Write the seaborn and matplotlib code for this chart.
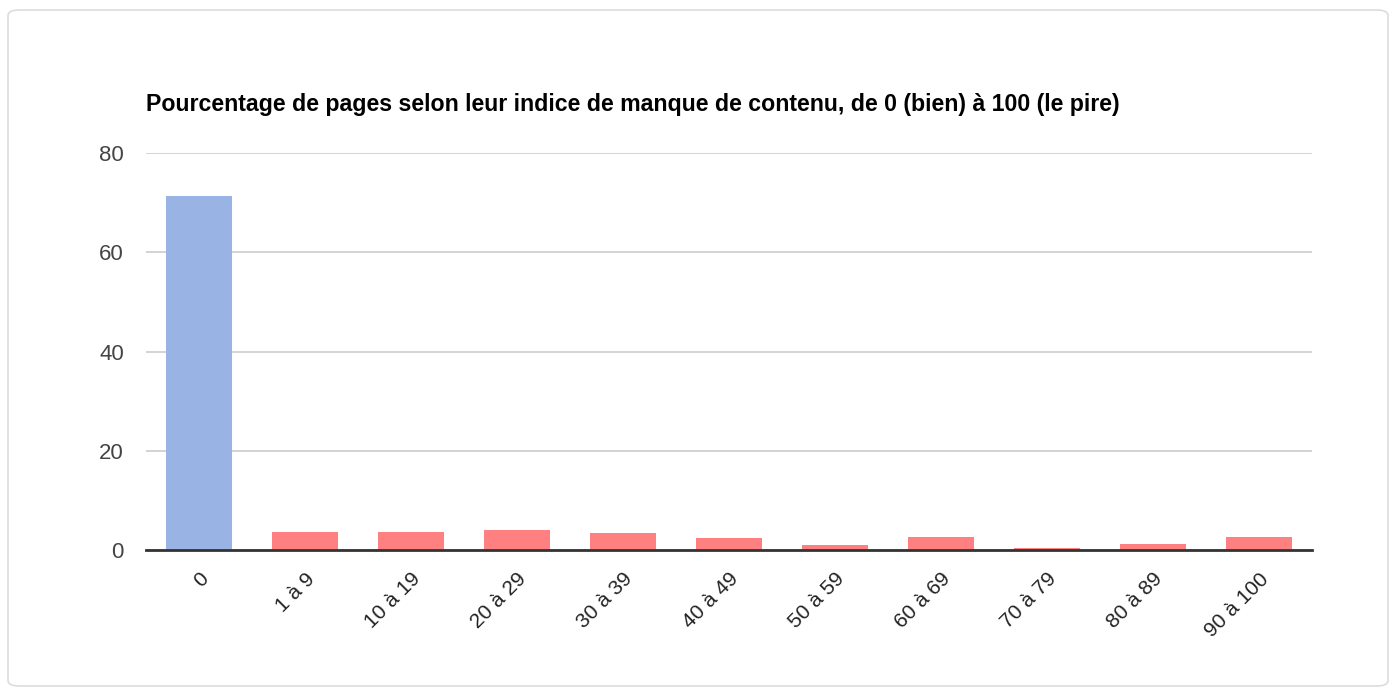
import matplotlib
matplotlib.use("Agg")
import matplotlib.pyplot as plt
from matplotlib.patches import FancyBboxPatch
import seaborn as sns
import pandas as pd

categories = ["0", "1 à 9", "10 à 19", "20 à 29", "30 à 39", "40 à 49",
              "50 à 59", "60 à 69", "70 à 79", "80 à 89", "90 à 100"]
values = [71.3, 3.6, 3.6, 4.0, 3.4, 2.4, 1.0, 2.6, 0.4, 1.2, 2.6]
groups = ["bien"] + ["manque"] * 10
palette = {"bien": "#99b3e5", "manque": "#ff8080"}
y_ticks = [0, 20, 40, 60, 80]
title = "Pourcentage de pages selon leur indice de manque de contenu, de 0 (bien) à 100 (le pire)"

df = pd.DataFrame({"categorie": categories, "valeur": values, "groupe": groups})

sns.set_theme(style="white")
plt.rcParams["font.family"] = ["Liberation Sans", "DejaVu Sans"]

fig = plt.figure(figsize=(13.96, 6.9), dpi=100)

# card outline, kept behind the axes
card = FancyBboxPatch((8 / 1396, 4 / 690), 1380 / 1396, 676 / 690,
                      boxstyle="round,pad=0,rounding_size=0.008",
                      transform=fig.transFigure, facecolor="none",
                      edgecolor="#dddddd", linewidth=1.2, zorder=-1)
fig.patches.append(card)

ax = fig.add_axes([146 / 1396, 1 - 550 / 690, 1166 / 1396, 397 / 690])
ax.set_facecolor("none")
ax.set_zorder(2)

sns.barplot(data=df, x="categorie", y="valeur", hue="groupe", palette=palette,
            saturation=1, dodge=False, width=0.62, legend=False, ax=ax,
            linewidth=0, zorder=3)

ax.set_ylim(0, 80)
ax.set_xlim(-0.5, len(categories) - 0.5)
ax.set_yticks(y_ticks)
ax.yaxis.grid(True, color="#cccccc", linewidth=1.2, zorder=0)
ax.set_axisbelow(True)
for s in ["top", "right", "left"]:
    ax.spines[s].set_visible(False)
ax.spines["bottom"].set_color("#333333")
ax.spines["bottom"].set_linewidth(2)
ax.spines["bottom"].set_zorder(5)

ax.set_xlabel("")
ax.set_ylabel("")
ax.tick_params(axis="y", length=0, pad=16, labelsize=16, labelcolor="#444444")
ax.tick_params(axis="x", length=0, pad=14, labelsize=15, labelcolor="#222222")
ax.set_xticks(range(len(categories)))
ax.set_xticklabels(categories, rotation=45, ha="right", rotation_mode="anchor")

fig.text(146 / 1396, 1 - 105 / 690, title, fontsize=16.7, fontweight="bold",
         color="#000000", va="center", ha="left")

fig.savefig("out.png", dpi=100)
